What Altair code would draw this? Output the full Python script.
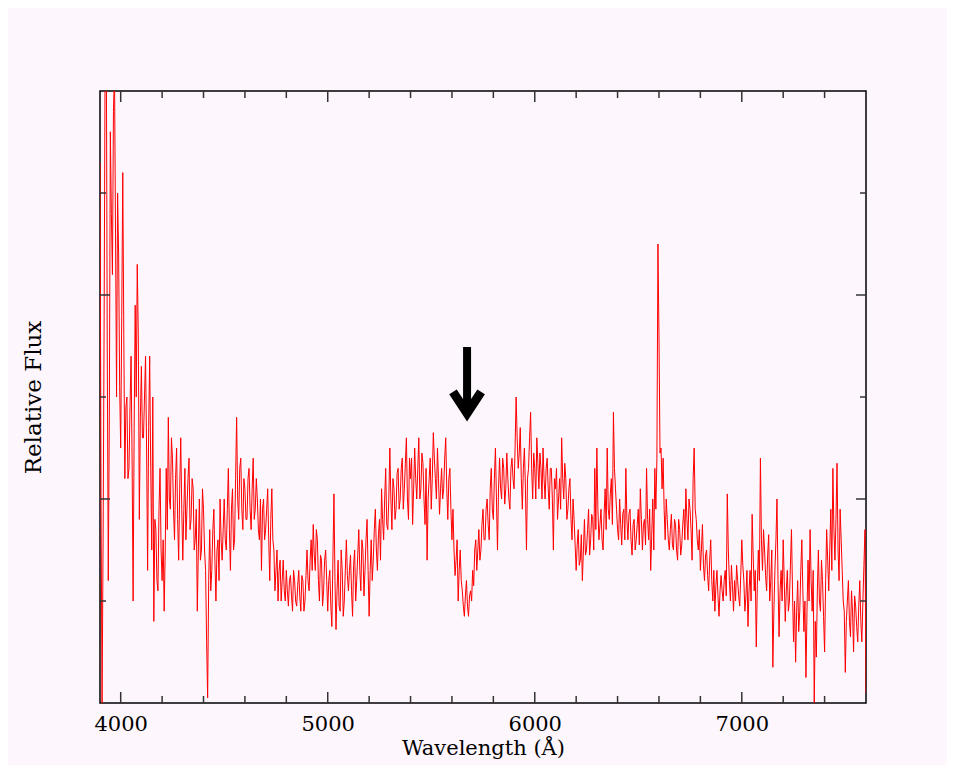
import altair as alt
import pandas as pd

# Spectrum: values at 3900, 3910, ... 7600 Å
wl_main = list(range(3900, 7610, 10))
flux_main = [
    5.3, 0.0, 3.8, 6.8, 1.2, 5.6, 4.2, 6.2, 3.0, 4.4,      # 3900
    2.5, 5.2, 2.2, 3.0, 2.3, 3.4, 1.0, 3.9, 4.3, 1.8,      # 4000
    3.3, 2.6, 3.4, 1.3, 3.4, 1.5, 0.8, 1.7, 1.1, 2.3,      # 4100
    1.2, 0.9, 2.3, 2.8, 1.9, 2.4, 1.6, 2.5, 1.4, 2.6,      # 4200
    1.4, 2.3, 1.9, 2.4, 1.8, 2.1, 1.6, 0.9, 2.0, 1.5,      # 4300
    1.9, 1.3, 0.05, 1.7, 1.3, 1.9, 1.0, 1.6, 2.0, 1.4,     # 4400
    2.0, 1.5, 2.3, 1.3, 2.1, 1.6, 2.8, 1.8, 2.4, 1.7,      # 4500
    2.1, 1.8, 2.3, 1.7, 2.4, 1.9, 2.0, 1.6, 1.3, 2.0,      # 4600
    1.7, 2.1, 1.2, 2.1, 1.5, 1.3, 1.0, 1.4, 1.2, 1.1,      # 4700
    1.3, 0.95, 1.25, 0.9, 1.2, 0.95, 1.3, 0.9, 1.2, 1.0,   # 4800
    1.5, 1.1, 1.6, 1.75, 1.3, 1.6, 1.0, 1.4, 1.1, 1.5,     # 4900
    0.9, 1.3, 0.75, 2.05, 0.72, 1.4, 0.9, 1.3, 1.0, 1.6,   # 5000
    1.1, 1.45, 0.85, 1.5, 1.2, 1.7, 1.1, 1.5, 1.3, 1.8,    # 5100
    0.85, 1.6, 1.4, 1.9, 1.3, 1.8, 2.1, 1.6, 2.3, 1.7,     # 5200
    2.5, 1.7, 2.1, 1.9, 2.3, 2.0, 2.4, 2.1, 2.6, 1.8,      # 5300
    2.2, 1.75, 2.5, 2.0, 2.6, 2.1, 2.35, 1.75, 1.4, 2.2,   # 5400
    1.9, 2.65, 2.2, 2.5, 1.85, 2.3, 2.1, 2.6, 1.8, 2.3,    # 5500
    1.6, 1.5, 1.4, 1.0, 1.5, 1.1, 0.85, 1.2, 0.85, 1.1,    # 5600
    1.3, 1.5, 1.3, 1.7, 1.5, 1.9, 1.6, 2.0, 1.6, 2.3,      # 5700
    1.8, 2.5, 1.5, 2.4, 2.0, 2.3, 2.1, 2.2, 1.9, 2.4,      # 5800
    2.1, 3.0, 2.3, 2.7, 1.9, 2.5, 1.5, 2.3, 2.85, 2.0,     # 5900
    2.3, 2.6, 2.1, 2.3, 2.5, 2.0, 2.4, 1.9, 2.3, 1.5,      # 6000
    2.1, 1.8, 2.2, 2.6, 2.0, 2.2, 1.9, 2.2, 1.6, 1.8,      # 6100
    1.3, 1.7, 1.4, 1.2, 1.8, 1.5, 1.9, 1.6, 1.8, 2.3,      # 6200
    2.5, 1.6, 1.9, 1.5, 2.1, 2.5, 1.8, 2.2, 2.85, 2.1,     # 6300
    1.7, 2.0, 1.55, 1.9, 2.3, 1.6, 1.9, 1.45, 1.8, 1.6,    # 6400
    1.9, 2.1, 1.5, 1.8, 2.3, 1.6, 1.3, 2.0, 2.3, 2.4,      # 6500
    3.6, 2.5, 2.4, 1.6, 1.8, 1.5, 1.85, 1.5, 1.75, 1.4,    # 6600
    1.7, 1.55, 1.9, 2.1, 1.6, 1.9, 1.4, 2.5, 1.8, 1.5,     # 6700
    1.3, 1.75, 1.2, 1.5, 1.1, 1.6, 1.0, 0.9, 1.3, 0.85,    # 6800
    1.25, 1.0, 1.3, 2.05, 1.2, 1.35, 0.9, 1.0, 1.2, 0.95,  # 6900
    1.6, 1.2, 1.05, 0.75, 1.3, 1.85, 1.1, 0.55, 1.5, 2.4,  # 7000
    1.3, 1.5, 1.1, 1.65, 1.2, 0.35, 1.3, 2.0, 0.65, 1.3,   # 7100
    1.6, 0.8, 1.3, 1.0, 1.7, 0.6, 0.4, 1.2, 0.9, 1.6,      # 7200
    0.7, 0.25, 1.4, 1.7, 0.9, 0.0, 0.45, 1.5, 0.9, 1.2,    # 7300
    0.5, 1.7, 1.1, 1.9, 2.3, 1.4, 2.35, 1.2, 1.6, 1.0,     # 7400
    0.3, 1.0, 0.8, 1.1, 0.5, 0.95, 0.6, 1.2, 0.6, 1.35,    # 7500
    0.1,                                                   # 7600
]

# Values in between: 3905, 3915, ... 7595 Å
wl_mid = list(range(3905, 7600, 10))
flux_mid = [
    2.0, 1.6, 6.5, 3.5, 2.8, 4.8, 5.8, 4.6, 5.0, 3.1,      # 3905
    3.8, 3.6, 2.9, 2.2, 2.9, 2.4, 2.7, 3.0, 3.6, 2.8,      # 4005
    2.6, 3.0, 2.5, 2.7, 2.3, 3.0, 1.8, 1.2, 1.9, 1.5,      # 4105
    1.6, 1.5, 1.7, 2.0, 2.6, 1.9, 2.2, 1.8, 2.1, 1.9,      # 4205
    1.9, 1.6, 2.2, 1.7, 2.2, 1.5, 1.9, 1.5, 1.4, 2.1,      # 4305
    1.5, 0.6, 1.2, 1.1, 1.7, 1.4, 1.5, 1.2, 1.6, 1.7,      # 4405
    1.6, 1.9, 1.7, 1.9, 1.5, 2.2, 2.0, 2.3, 1.9, 2.2,      # 4505
    1.8, 2.2, 1.9, 2.1, 1.8, 2.2, 1.7, 2.0, 1.9, 1.6,      # 4605
    1.9, 1.6, 1.8, 1.6, 1.1, 1.5, 1.3, 1.0, 1.4, 1.0,      # 4705
    1.1, 1.2, 1.05, 1.3, 1.0, 1.15, 1.05, 1.25, 0.9, 1.25, # 4805
    1.2, 1.4, 1.3, 1.45, 1.7, 1.2, 1.45, 0.95, 1.4, 1.2,   # 4905
    1.2, 0.95, 1.4, 1.2, 1.1, 0.95, 1.5, 0.85, 1.3, 1.25,  # 5005
    1.3, 1.1, 1.35, 1.0, 1.45, 1.3, 1.6, 1.05, 1.6, 1.3,   # 5105
    1.3, 1.2, 1.7, 1.5, 1.65, 1.4, 1.8, 2.0, 1.75, 2.0,    # 5205
    2.0, 2.2, 1.8, 2.25, 1.9, 2.3, 1.9, 2.35, 2.0, 2.4,    # 5305
    2.4, 2.1, 2.2, 2.3, 2.0, 2.45, 2.0, 2.3, 2.0, 2.4,     # 5405
    2.2, 2.4, 2.0, 2.2, 2.1, 2.0, 2.4, 2.1, 2.2, 1.9,      # 5505
    1.9, 1.25, 1.6, 1.3, 1.2, 0.95, 1.05, 0.95, 1.05, 1.0, # 5605
    1.15, 1.6, 1.5, 1.4, 1.75, 1.6, 1.9, 1.75, 2.1, 1.9,   # 5705
    2.2, 2.0, 2.1, 2.1, 2.4, 1.95, 2.45, 2.0, 2.3, 2.2,    # 5805
    2.5, 2.6, 2.45, 2.2, 2.3, 2.1, 2.2, 2.6, 2.3, 2.45,    # 5905
    2.0, 2.35, 2.45, 2.0, 2.2, 2.3, 2.1, 2.3, 2.0, 2.2,    # 6005
    2.3, 2.0, 1.9, 2.2, 2.35, 1.8, 2.1, 1.8, 2.0, 1.55,    # 6105
    1.55, 1.35, 1.65, 1.5, 1.45, 1.7, 1.45, 1.85, 1.5, 1.7,  # 6205
    1.9, 1.75, 1.6, 1.85, 1.7, 1.9, 2.05, 1.75, 2.3, 1.9,  # 6305
    1.6, 1.75, 1.85, 1.6, 1.8, 1.85, 1.6, 1.75, 1.5, 1.75, # 6405
    1.55, 1.8, 1.75, 1.55, 1.8, 1.9, 1.65, 1.5, 1.9, 4.5,  # 6505
    2.45, 2.1, 1.9, 2.0, 1.6, 1.7, 1.55, 1.8, 1.5, 1.8,    # 6605
    1.45, 1.75, 1.6, 1.8, 2.0, 1.7, 2.2, 1.9, 1.6, 1.7,    # 6705
    1.5, 1.35, 1.45, 1.25, 1.4, 1.2, 1.3, 1.15, 1.05, 1.1, # 6805
    1.1, 1.2, 1.05, 1.5, 1.0, 1.15, 1.2, 1.35, 1.05, 1.25, # 6905
    1.35, 0.9, 1.3, 1.1, 1.0, 1.45, 1.3, 1.15, 1.2, 1.6,   # 7005
    1.7, 1.25, 1.45, 1.0, 1.5, 0.9, 1.6, 1.2, 1.1, 1.0,    # 7105
    1.2, 1.1, 0.9, 1.35, 1.1, 1.0, 0.9, 0.7, 1.3, 1.1,     # 7205
    1.0, 0.9, 1.0, 1.2, 1.3, 0.8, 1.1, 1.0, 1.4, 0.85,     # 7305
    1.2, 1.4, 1.5, 1.3, 1.7, 1.8, 1.5, 1.9, 1.3, 0.9,      # 7405
    0.8, 1.2, 0.65, 0.9, 1.05, 0.75, 0.95, 0.8, 1.0, 1.7,  # 7505
]

# Axis ticks
x_major = [4000, 5000, 6000, 7000]
x_minor = [4200, 4400, 4600, 4800, 5200, 5400, 5600, 5800,
           6200, 6400, 6600, 6800, 7200, 7400]
x_labels = [4000, 5000, 6000, 7000]
y_major = [2, 4]
y_minor = [1, 3, 5]

# Arrow marking the absorption feature
arrow_wl = [5605, 5673, 5741]
arrow_flux = [3.05, 2.84, 3.05]
shaft_wl = [5673]
shaft_top = [3.49]
shaft_bottom = [2.9]

SERIF = "DejaVu Serif"
W, H = 766, 612

spec = pd.concat([
    pd.DataFrame({"wl": wl_main, "flux": flux_main}),
    pd.DataFrame({"wl": wl_mid, "flux": flux_mid}),
]).sort_values("wl").reset_index(drop=True)

x_scale = alt.Scale(domain=[3900, 7600], nice=False, zero=False)
y_scale = alt.Scale(domain=[0, 6], nice=False, zero=False)

line = alt.Chart(spec).mark_line(
    color="#ff0000", strokeWidth=1, interpolate="linear", clip=True
).encode(
    x=alt.X("wl:Q", scale=x_scale, axis=alt.Axis(
        values=x_labels, format="d", ticks=False, domain=False, grid=False,
        labelFont=SERIF, labelFontSize=21, labelColor="black", labelPadding=10,
        title="Wavelength (Å)", titleFont=SERIF, titleFontSize=21,
        titleFontWeight="normal", titleColor="black", titlePadding=3)),
    y=alt.Y("flux:Q", scale=y_scale, axis=alt.Axis(
        labels=False, ticks=False, domain=False, grid=False,
        title="Relative Flux", titleFont=SERIF, titleFontSize=23,
        titleFontWeight="normal", titleColor="black", titlePadding=55)),
    order="wl:Q",
)

TICK = "#333333"


def xticks(vals, y0, y1):
    return alt.Chart(pd.DataFrame({"wl": vals})).mark_rule(
        color=TICK, strokeWidth=1.5).encode(
        x=alt.X("wl:Q", scale=x_scale),
        y=alt.value(y0), y2=alt.value(y1))


def yticks(vals, x0, x1):
    return alt.Chart(pd.DataFrame({"flux": vals})).mark_rule(
        color=TICK, strokeWidth=1.5).encode(
        y=alt.Y("flux:Q", scale=y_scale),
        x=alt.value(x0), x2=alt.value(x1))


ticks = [
    xticks(x_major, 0, 11), xticks(x_minor, 0, 7),
    xticks(x_major, H, H - 11), xticks(x_minor, H, H - 7),
    yticks(y_major, 0, 10), yticks(y_minor, 0, 6),
    yticks(y_major, W, W - 10), yticks(y_minor, W, W - 6),
]

shaft = alt.Chart(pd.DataFrame({"wl": shaft_wl, "flux": shaft_top, "flux2": shaft_bottom})).mark_rule(
    color="black", strokeWidth=8, strokeCap="butt").encode(
    x=alt.X("wl:Q", scale=x_scale),
    y=alt.Y("flux:Q", scale=y_scale),
    y2="flux2:Q")

head = alt.Chart(pd.DataFrame({"wl": arrow_wl, "flux": arrow_flux, "k": [0, 1, 2]})).mark_line(
    color="black", strokeWidth=9, strokeJoin="miter", strokeCap="butt", strokeMiterLimit=10).encode(
    x=alt.X("wl:Q", scale=x_scale),
    y=alt.Y("flux:Q", scale=y_scale),
    order="k:Q")

chart = alt.layer(line, *ticks, shaft, head).properties(
    width=W, height=H,
    padding={"left": 92, "top": 83, "right": 81, "bottom": 62},
    autosize=alt.AutoSizeParams(type="none"),
    background="#fdf6fd",
).configure_view(stroke="black", strokeWidth=1.5)

chart.save("out.html", embed_options={"renderer": "svg", "actions": False})
